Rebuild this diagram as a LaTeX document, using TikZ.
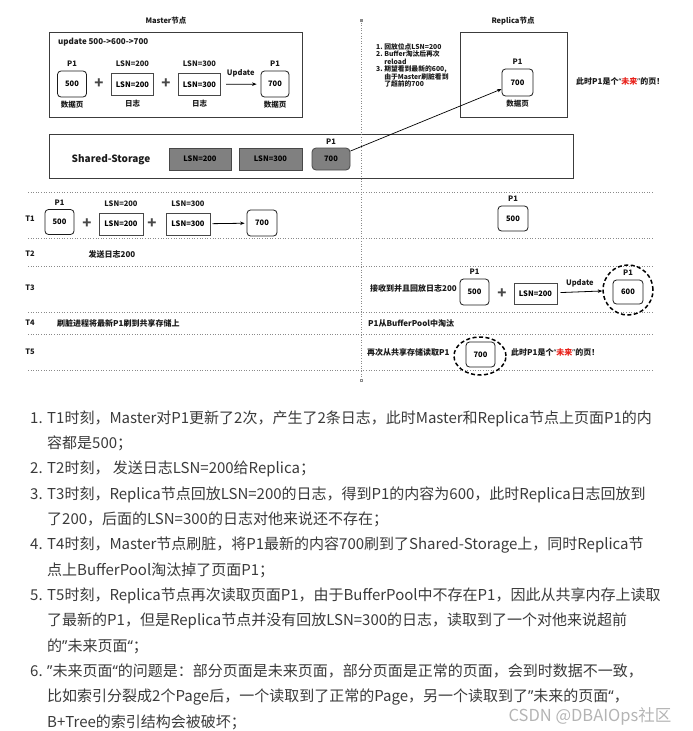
\documentclass[tikz,border=0pt]{standalone}
\usepackage{fontspec}
\setmainfont{Noto Sans CJK SC}
\newfontfamily\quotefont{Noto Sans}
\usepackage{xcolor}
\usetikzlibrary{positioning,arrows.meta,shapes.geometric}
\definecolor{ink}{HTML}{1a1a1a}
\definecolor{body}{HTML}{3a3a3a}
\definecolor{rule}{HTML}{8a8a8a}
\definecolor{slabgray}{HTML}{808080}
\definecolor{future}{HTML}{e8211a}
\definecolor{wmark}{HTML}{b4b4b4}
\newcommand{\qtL}{{\quotefont “}}
\newcommand{\qtR}{{\quotefont ”}}
\newcommand{\fut}{\qtL\textcolor{future}{未来}\qtR}

\begin{document}
\begin{tikzpicture}[x=1pt,y=-1pt,
  lbl/.style={font=\fontsize{7.5}{9}\selectfont\bfseries,inner sep=1pt,text=ink},
  small/.style={font=\fontsize{8}{10}\selectfont\bfseries,inner sep=1pt,text=ink,anchor=west},
  page/.style={draw=ink,rounded corners=3.5pt,line width=0.8pt,minimum width=29pt,minimum height=26pt,inner sep=0pt,font=\fontsize{7.5}{9}\selectfont\bfseries},
  logbox/.style={draw=ink!80,line width=1pt,minimum width=42pt,minimum height=22pt,inner sep=0pt,font=\fontsize{7.5}{9}\selectfont\bfseries},
  slab/.style={draw=ink!80,fill=slabgray,line width=0.8pt,minimum height=22pt,inner sep=0pt,font=\fontsize{7.5}{9}\selectfont\bfseries},
  frame/.style={draw=ink!85,line width=0.8pt,anchor=north west,inner sep=0pt},
  plus/.style={font=\fontsize{15}{15}\selectfont\bfseries,inner sep=0pt,text=ink!80},
  arr/.style={-{Stealth[length=4.5pt,width=3.5pt]},line width=0.8pt},
  sep/.style={draw=rule,dotted,line width=0.6pt},
  ring/.style={draw,dash pattern=on 4pt off 2.5pt,line width=1.5pt,inner sep=0pt},
  para/.style={font=\fontsize{15}{18}\selectfont,text=body,inner sep=0pt,anchor=base west}]
  \useasboundingbox (0,0) rectangle (693,731);

  % Master
  \node[lbl] (mt) at (166,21) {Master节点};
  \node[frame,minimum width=253pt,minimum height=85pt] (mbox) at (49,32) {};
  \node[small] (mup) at (57,42) {update 500->600->700};
  \node[page] (m500) at (72,84) {500};
  \node[plus] (mplus1) at (99,84) {+};
  \node[logbox] (m200) at (132.5,84.5) {LSN=200};
  \node[plus] (mplus2) at (166,84) {+};
  \node[logbox] (m300) at (199.5,84.5) {LSN=300};
  \node[page,minimum width=28pt] (m700) at (275,84) {700};
  \draw[arr,shorten <=5pt,shorten >=4pt] (m300) -- node[lbl,above=6pt] (mu) {Update} (m700);
  \node[lbl,above=2.5pt of m500] (mp1) {P1};
  \node[lbl,below=2pt of m500] (md1) {数据页};
  \node[lbl,above=5pt of m200] (ml2) {LSN=200};
  \node[lbl,below=2.5pt of m200] (mr2) {日志};
  \node[lbl,above=5pt of m300] (ml3) {LSN=300};
  \node[lbl,below=2.5pt of m300] (mr3) {日志};
  \node[lbl,above=2.5pt of m700] (mp2) {P1};
  \node[lbl,below=2pt of m700] (md2) {数据页};

  % Replica
  \node[lbl] (rt) at (513,21) {Replica节点};
  \node[frame,minimum width=107pt,minimum height=85pt] (rbox) at (460,32) {};
  \node[page,minimum width=31pt,minimum height=27pt] (r700) at (517.5,82.5) {700};
  \node[lbl,above=2.5pt of r700] (rp1) {P1};
  \node[lbl,below=2pt of r700] (rd1) {数据页};
  \node[anchor=north west,align=left,inner sep=0pt,text=ink,font=\fontsize{6.8}{7.5}\selectfont\bfseries] (rnote) at (376,43)
    {1.\ 回放位点LSN=200\\2.\ Buffer淘汰后再次\\\phantom{2.\ }reload\\3.\ 期望看到最新的600,\\\phantom{3.\ }由于Master刷脏看到\\\phantom{3.\ }了超前的700};
  \node[small] (rfut) at (575,81) {此时P1是个\fut 的页！};

  % Shared-Storage
  \node[frame,minimum width=524pt,minimum height=44pt] (sbox) at (49,134) {};
  \node[lbl,font=\fontsize{10}{12}\selectfont\bfseries] (stxt) at (111,160) {Shared-Storage};
  \node[slab,minimum width=62pt] (s200) at (200,159) {LSN=200};
  \node[slab,minimum width=63pt] (s300) at (270.5,159) {LSN=300};
  \node[slab,minimum width=38pt,rounded corners=4pt] (s700) at (331,159) {700};
  \node[lbl,above=1.5pt of s700] (sp1) {P1};
  \draw[arr,line width=0.7pt] (s700) -- (r700);

  % time rows
  \foreach \y in {192,238,266,312,334,370} \draw[sep] (28,\y) -- (653,\y);
  \draw[sep] (361,20) -- (361,380);
  \foreach \y in {20,380} \node[draw=rule,minimum size=2.5pt,inner sep=0pt,line width=0.4pt] (end\y) at (361,\y) {};
  \foreach \t/\y in {1/219,2/254,3/288,4/323,5/352} \node[lbl] (t\t) at (30,\y) {T\t};

  \node[page,minimum height=25pt] (a500) at (59.5,222) {500};
  \node[lbl,above=2.5pt of a500] (ap1) {P1};
  \node[plus] (aplus1) at (87,224) {+};
  \node[logbox,minimum width=44pt] (a200) at (121,224) {LSN=200};
  \node[lbl,above=5pt of a200] (al2) {LSN=200};
  \node[plus] (aplus2) at (152,224) {+};
  \node[logbox,minimum width=44pt] (a300) at (188,224) {LSN=300};
  \node[lbl,above=5pt of a300] (al3) {LSN=300};
  \node[page,minimum width=30pt] (a700) at (262,223) {700};
  \draw[arr,shorten <=2pt,shorten >=2pt] (a300) -- (a700);
  \node[page,minimum width=30pt,minimum height=25pt] (b500) at (513,218.5) {500};
  \node[lbl,above=2.5pt of b500] (bp1) {P1};

  \node[small,anchor=center] (c2) at (112,254) {发送日志200};

  \node[small] (d1) at (369,288) {接收到并且回放日志200};
  \node[page] (d500) at (474.5,292) {500};
  \node[lbl,above=2.5pt of d500] (dp1) {P1};
  \node[plus] (dplus) at (502,294) {+};
  \node[logbox,minimum width=43pt,minimum height=21pt] (d200) at (535.5,293.5) {LSN=200};
  \node[page,minimum width=30pt,minimum height=24pt] (d600) at (628,292) {600};
  \node[lbl,above=2.5pt of d600] (dp2) {P1};
  \node[ring,circle,minimum size=50pt] (dring) at (628,290) {};
  \draw[arr,shorten <=3pt] (d200) -- node[lbl,above=3pt] (du) {Update} (dring);

  \node[small] (e1) at (56,323) {刷脏进程将最新P1刷到共享存储上};
  \node[small] (e2) at (367,323) {P1从BufferPool中淘汰};

  \node[small] (f1) at (366,352) {再次从共享存储读取P1};
  \node[page,minimum height=25pt] (f700) at (480.5,354.5) {700};
  \node[ring,ellipse,minimum width=52pt,minimum height=38pt] (fring) at (480,356) {};
  \node[small] (f2) at (510,352) {此时P1是个\fut 的页！};

  % list
  \foreach \t [count=\i from 0] in {
    {T1时刻，Master对P1更新了2次，产生了2条日志，此时Master和Replica节点上页面P1的内},
    {容都是500；},
    {T2时刻，\ 发送日志LSN=200给Replica；},
    {T3时刻，Replica节点回放LSN=200的日志，得到P1的内容为600，此时Replica日志回放到},
    {了200，后面的LSN=300的日志对他来说还不存在；},
    {T4时刻，Master节点刷脏，将P1最新的内容700刷到了Shared-Storage上，同时Replica节},
    {点上BufferPool淘汰掉了页面P1；},
    {T5时刻，Replica节点再次读取页面P1，由于BufferPool中不存在P1，因此从共享内存上读取},
    {了最新的P1，但是Replica节点并没有回放LSN=300的日志，读取到了一个对他来说超前},
    {的\qtR 未来页面\qtL；},
    {\qtR 未来页面\qtL 的问题是：部分页面是未来页面，部分页面是正常的页面，会到时数据不一致，},
    {比如索引分裂成2个Page后，一个读取到了正常的Page，另一个读取到了\qtR 未来的页面\qtL，},
    {B+Tree的索引结构会被破坏；}}
    \node[para] (l\i) at (47,423+25.35*\i) {\t};
  \foreach \n/\k in {1/0,2/2,3/3,4/5,5/7,6/10} \node[para] (n\n) at (30,423+25.35*\k) {\n.};
  \node[font=\fontsize{16.5}{18}\selectfont,text=wmark,inner sep=0pt] (wm) at (590,716) {CSDN @DBAIOps社区};
\end{tikzpicture}
\end{document}
